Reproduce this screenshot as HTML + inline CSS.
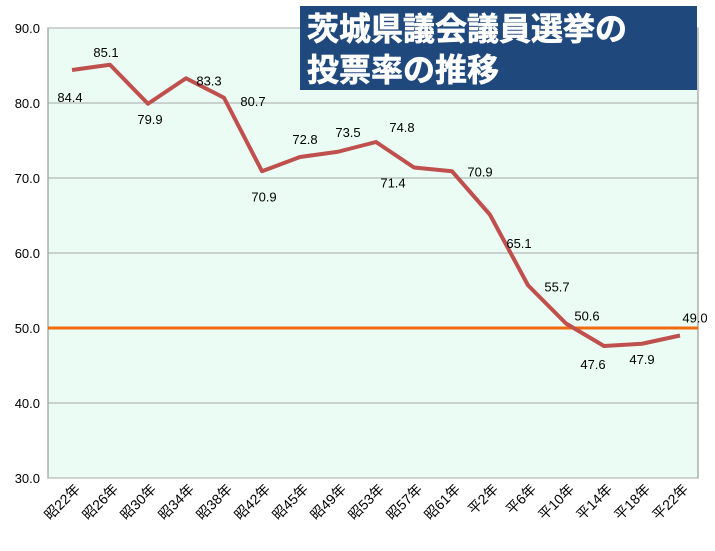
<!DOCTYPE html>
<html><head><meta charset="utf-8"><style>
body{margin:0;background:#fff;}
svg{display:block;font-family:"Liberation Sans","Noto Sans CJK JP",sans-serif;}
</style></head><body>
<svg id="chart" width="715" height="551">
<rect x="48" y="28" width="650" height="450" fill="#eafcf3" stroke="#888"/>
<g id="grid"></g><g id="yt"></g><g id="xt"></g>
<g id="ref"></g><g id="series"></g><g id="labels"></g>
<g>
<rect x="300" y="6" width="397" height="84" fill="#1f497d"/>
<text x="307" y="40" fill="#fff" font-size="32" font-weight="bold" stroke="#fff" stroke-width="0.6">茨城県議会議員選挙の</text>
<text x="307" y="81" fill="#fff" font-size="32" font-weight="bold" stroke="#fff" stroke-width="0.6">投票率の推移</text>
</g>
</svg>
<script>
const categories=["昭22年","昭26年","昭30年","昭34年","昭38年","昭42年","昭45年","昭49年","昭53年","昭57年","昭61年","平2年","平6年","平10年","平14年","平18年","平22年"];
const turnout=[84.4,85.1,79.9,83.3,80.7,70.9,72.8,73.5,74.8,71.4,70.9,65.1,55.7,50.6,47.6,47.9,49.0];
const yTicks=[30,40,50,60,70,80,90];
const referenceValue=50;
const labelDx=[-2,-4,2,23,29,2,5,10,26,-21,28,29,29,21,-11,0,15];
const labelDy=[27,-13,15,2,3,25,-18,-20,-15,15,0,28,1,-8,18,15,-18];
const NS="http://www.w3.org/2000/svg";
const X0=72,X1=680,Y0=478,Y1=28,VMIN=30,VMAX=90;
const xs=i=>X0+(X1-X0)*i/(categories.length-1);
const ys=v=>Y0-(v-VMIN)/(VMAX-VMIN)*(Y0-Y1);
function mk(tag,attrs,parent){const e=document.createElementNS(NS,tag);for(const k in attrs)e.setAttribute(k,attrs[k]);document.getElementById(parent).appendChild(e);return e;}
yTicks.forEach(t=>{
 const g=mk("line",{x1:48,x2:698,y1:ys(t),y2:ys(t),stroke:"#a8a8a8","stroke-width":1},"grid");
 
 
 const l=mk("text",{x:40,y:ys(t)+5,"text-anchor":"end","font-size":13,fill:"#000"},"yt");
 l.textContent=t.toFixed(1);
 
 
});
categories.forEach((c,i)=>{
 const x=xs(i)+9,y=490;
 const l=mk("text",{x:x,y:y,"text-anchor":"end","font-size":14,transform:`rotate(-45 ${x} ${y})`,fill:"#000"},"xt");
 l.textContent=c;
 
 
});
const r=mk("line",{x1:48,x2:698,y1:ys(referenceValue),y2:ys(referenceValue),stroke:"#f26b0f","stroke-width":3},"ref");


const p=mk("polyline",{points:turnout.map((v,i)=>xs(i)+","+ys(v)).join(" "),fill:"none",stroke:"#c0504d","stroke-width":4,"stroke-linejoin":"round"},"series");


turnout.forEach((v,i)=>{
 const t=mk("text",{x:xs(i)+labelDx[i],y:ys(v)+labelDy[i]+5,"text-anchor":"middle","font-size":13,fill:"#000"},"labels");
 t.textContent=v.toFixed(1);
 
 
});
</script>
</body></html>
